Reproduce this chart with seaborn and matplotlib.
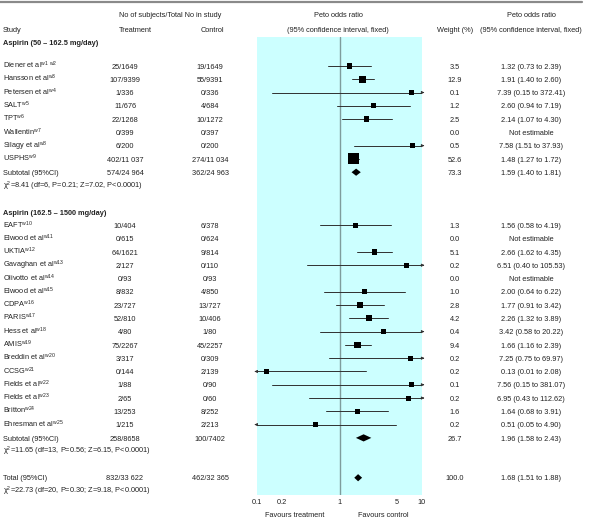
import numpy as np
import pandas as pd
import seaborn as sns
import matplotlib
matplotlib.use("Agg")
import matplotlib.pyplot as plt
from matplotlib.lines import Line2D
from matplotlib.transforms import blended_transform_factory

# ---- data ----
g1_study = ["Diener et al$^{w1\\ w2}$", "Hansson et al$^{w3}$", "Petersen et al$^{w4}$",
            "SALT$^{w5}$", "TPT$^{w6}$", "Wallentin$^{w7}$", "Silagy et al$^{w8}$", "USPHS$^{w9}$"]
g1_treat = ["25/1649", "107/9399", "1/336", "11/676", "22/1268", "0/399", "6/200", "402/11 037"]
g1_ctrl = ["19/1649", "55/9391", "0/336", "4/684", "10/1272", "0/397", "0/200", "274/11 034"]
g1_weight = [3.5, 12.9, 0.1, 1.2, 2.5, 0.0, 0.5, 52.6]
g1_or = [1.32, 1.91, 7.39, 2.60, 2.14, np.nan, 7.58, 1.48]
g1_lo = [0.73, 1.40, 0.15, 0.94, 1.07, np.nan, 1.51, 1.27]
g1_hi = [2.39, 2.60, 372.41, 7.19, 4.30, np.nan, 37.93, 1.72]

g2_study = ["EAFT$^{w10}$", "Elwood et al$^{w11}$", "UKTIA$^{w12}$", "Gavaghan et al$^{w13}$",
            "Olivotto et al$^{w14}$", "Elwood et al$^{w15}$", "CDPA$^{w16}$", "PARIS$^{w17}$",
            "Hess et al$^{w18}$", "AMIS$^{w19}$", "Breddin et al$^{w20}$", "CCSG$^{w21}$",
            "Fields et al$^{w22}$", "Fields et al$^{w23}$", "Britton$^{w24}$", "Ehresman et al$^{w25}$"]
g2_treat = ["10/404", "0/615", "64/1621", "2/127", "0/93", "8/832", "23/727", "52/810",
            "4/80", "75/2267", "3/317", "0/144", "1/88", "2/65", "13/253", "1/215"]
g2_ctrl = ["6/378", "0/624", "9/814", "0/110", "0/93", "4/850", "13/727", "10/406",
           "1/80", "45/2257", "0/309", "2/139", "0/90", "0/60", "8/252", "2/213"]
g2_weight = [1.3, 0.0, 5.1, 0.2, 0.0, 1.0, 2.8, 4.2, 0.4, 9.4, 0.2, 0.2, 0.1, 0.2, 1.6, 0.2]
g2_or = [1.56, np.nan, 2.66, 6.51, np.nan, 2.00, 1.77, 2.26, 3.42, 1.66, 7.25, 0.13, 7.56, 6.95, 1.64, 0.51]
g2_lo = [0.58, np.nan, 1.62, 0.40, np.nan, 0.64, 0.91, 1.32, 0.58, 1.16, 0.75, 0.01, 0.15, 0.43, 0.68, 0.05]
g2_hi = [4.19, np.nan, 4.35, 105.53, np.nan, 6.22, 3.42, 3.89, 20.22, 2.39, 69.97, 2.08, 381.07, 112.62, 3.91, 4.90]

pooled_label = ["Subtotal (95%CI)", "Subtotal (95%CI)", "Total (95%CI)"]
pooled_treat = ["574/24 964", "258/8658", "832/33 622"]
pooled_ctrl = ["362/24 963", "100/7402", "462/32 365"]
pooled_weight = [73.3, 26.7, 100.0]
pooled_or = [1.59, 1.96, 1.68]
pooled_lo = [1.40, 1.58, 1.51]
pooled_hi = [1.81, 2.43, 1.88]
het_text = ["χ$^2$=8.41 (df=6, P=0.21; Z=7.02, P<0.0001)",
            "χ$^2$=11.65 (df=13, P=0.56; Z=6.15, P<0.0001)",
            "χ$^2$=22.73 (df=20, P=0.30; Z=9.18, P<0.0001)"]
group_titles = ["Aspirin (50 – 162.5 mg/day)", "Aspirin (162.5 – 1500 mg/day)"]
tick_vals = [0.1, 0.2, 1, 5, 10]

# ---- row layout ----
g1_rows = list(range(0, 8))
g2_rows = list(range(12, 28))
pooled_rows = [8, 28, 31]
het_rows = [9, 29, 32]
title_rows = [-1.8, 11]

studies = pd.DataFrame({
    "study": g1_study + g2_study,
    "treat": g1_treat + g2_treat,
    "ctrl": g1_ctrl + g2_ctrl,
    "weight": g1_weight + g2_weight,
    "or": g1_or + g2_or,
    "lo": g1_lo + g2_lo,
    "hi": g1_hi + g2_hi,
    "row": g1_rows + g2_rows,
})

sns.set_theme(style="white")
plt.rcParams["font.family"] = ["Liberation Sans", "DejaVu Sans"]
plt.rcParams["mathtext.fontset"] = "custom"
plt.rcParams["mathtext.rm"] = "Liberation Sans"
plt.rcParams["mathtext.default"] = "regular"
FS = 5.3

W, H = 589, 520
fig = plt.figure(figsize=(W / 100, H / 100), dpi=100)
ax = fig.add_axes([257 / W, 1 - 495 / H, 165 / W, 458 / H])
ax.set_facecolor("#ccffff")
ax.set_xscale("log")
ax.set_xlim(0.1, 10)
ax.set_ylim(32.3, -2.18)
for s in ax.spines.values():
    s.set_visible(False)
ax.axvline(1, color="#7f9c9c", lw=1.0, zorder=1)
ax.set_yticks([])
ax.set_xticks(tick_vals)
ax.set_xticklabels([f"{t:g}" for t in tick_vals], fontsize=FS, color="#222222")
ax.minorticks_off()
ax.tick_params(axis="x", length=0, pad=3)

# CI lines, with arrows where they run off the scale
line_c = "#303030"
est = studies.dropna(subset=["or"])
for _, r in est.iterrows():
    lo_c, hi_c = max(r["lo"], 0.1), min(r["hi"], 10)
    ax.plot([lo_c, hi_c], [r["row"], r["row"]], color=line_c, lw=0.7, zorder=2)
    if r["hi"] > 10:
        ax.annotate("", xy=(10.7, r["row"]), xytext=(9.5, r["row"]),
                    arrowprops=dict(arrowstyle="-|>", lw=0.6, color=line_c, mutation_scale=4),
                    annotation_clip=False)
    if r["lo"] < 0.1:
        ax.annotate("", xy=(0.093, r["row"]), xytext=(0.105, r["row"]),
                    arrowprops=dict(arrowstyle="-|>", lw=0.6, color=line_c, mutation_scale=4),
                    annotation_clip=False)

sns.scatterplot(data=est, x="or", y="row", size="weight", sizes=(13, 62), size_norm=(0, 52.6),
                marker="s", color="black", edgecolor="black", linewidth=0, legend=False,
                ax=ax, zorder=3)
ax.set_xlabel("")
ax.set_ylabel("")

# pooled diamonds
for y, o, lo, hi in zip(pooled_rows, pooled_or, pooled_lo, pooled_hi):
    ax.fill([lo, o, hi, o], [y, y - 0.27, y, y + 0.27], color="black", lw=0, zorder=3)

# ---- text columns ----
tr = blended_transform_factory(fig.transFigure, ax.transData)
X_STUDY, X_TREAT, X_CTRL, X_W, X_RES, X_PETO = 3 / W, 125 / W, 210 / W, 455 / W, 531 / W, 338 / W
BL = 0.2  # baseline offset (rows)


def txt(x, y, s, ha="left", **kw):
    ax.text(x, y + BL, s, transform=tr, ha=ha, va="baseline", fontsize=FS,
            color="#222222", clip_on=False, **kw)


def res_str(o, lo, hi):
    if np.isnan(o):
        return "Not estimable"
    return f"{o:.2f} ({lo:.2f} to {hi:.2f})"


for _, r in studies.iterrows():
    txt(X_STUDY, r["row"], r["study"])
    txt(X_TREAT, r["row"], r["treat"], ha="center")
    txt(X_CTRL, r["row"], r["ctrl"], ha="center")
    txt(X_W, r["row"], f"{r['weight']:.1f}", ha="center")
    txt(X_RES, r["row"], res_str(r["or"], r["lo"], r["hi"]), ha="center")

for i, y in enumerate(pooled_rows):
    txt(X_STUDY, y, pooled_label[i])
    txt(X_TREAT, y, pooled_treat[i], ha="center")
    txt(X_CTRL, y, pooled_ctrl[i], ha="center")
    txt(X_W, y, f"{pooled_weight[i]:.1f}", ha="center")
    txt(X_RES, y, res_str(pooled_or[i], pooled_lo[i], pooled_hi[i]), ha="center")
for y, s in zip(het_rows, het_text):
    txt(X_STUDY, y, s)
for y, s in zip(title_rows, group_titles):
    txt(X_STUDY, y, s, fontweight="bold")

# header
h1, h2 = -3.92, -2.79
txt(119 / W, h1, "No of subjects/Total No in study")
txt(X_STUDY, h2, "Study")
txt(135 / W, h2, "Treatment", ha="center")
txt(212 / W, h2, "Control", ha="center")
txt(X_PETO, h1, "Peto odds ratio", ha="center")
txt(X_PETO, h2, "(95% confidence interval, fixed)", ha="center")
txt(X_W, h2, "Weight (%)", ha="center")
txt(X_RES, h1, "Peto odds ratio", ha="center")
txt(X_RES, h2, "(95% confidence interval, fixed)", ha="center")

# footer labels under the scale
ftr = blended_transform_factory(ax.transAxes, ax.transData)
ax.text(0.23, 33.75 + BL, "Favours treatment", transform=ftr,
        ha="center", va="baseline", fontsize=FS, color="#222222", clip_on=False)
ax.text(0.764, 33.75 + BL, "Favours control", transform=ftr,
        ha="center", va="baseline", fontsize=FS, color="#222222", clip_on=False)

fig.add_artist(Line2D([0, 582 / W], [1 - 2 / H, 1 - 2 / H], transform=fig.transFigure,
                      color="#8a8a8a", lw=1.6))

fig.savefig("out.png", dpi=100)
